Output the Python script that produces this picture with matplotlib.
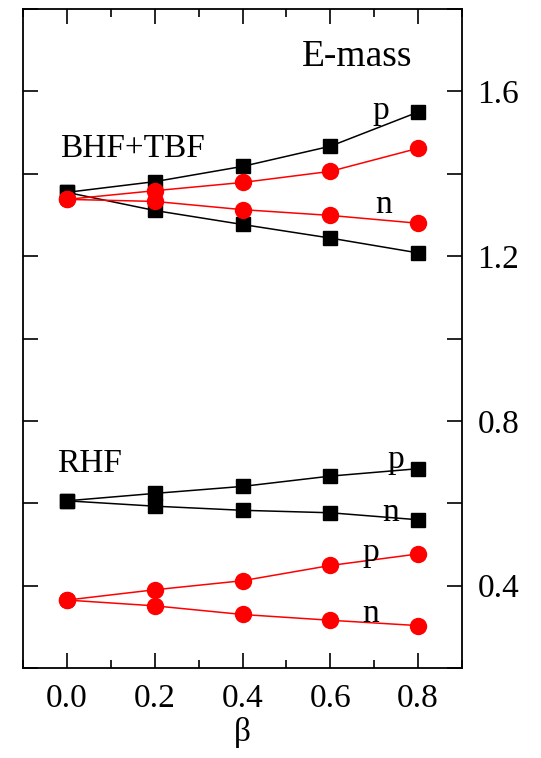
import matplotlib
matplotlib.use("Agg")
import matplotlib.pyplot as plt
from matplotlib.ticker import MultipleLocator

plt.rcParams['font.family'] = ['Liberation Serif', 'DejaVu Serif']

beta = [0.0, 0.2, 0.4, 0.6, 0.8]

# BHF+TBF
bhf_black_p = [1.355, 1.381, 1.418, 1.467, 1.550]
bhf_black_n = [1.355, 1.311, 1.277, 1.244, 1.208]
bhf_red_p = [1.338, 1.359, 1.379, 1.406, 1.462]
bhf_red_n = [1.338, 1.333, 1.313, 1.299, 1.280]

# RHF
rhf_black_p = [0.606, 0.624, 0.641, 0.666, 0.684]
rhf_black_n = [0.606, 0.593, 0.583, 0.577, 0.560]
rhf_red_p = [0.365, 0.390, 0.412, 0.449, 0.477]
rhf_red_n = [0.365, 0.351, 0.330, 0.316, 0.303]

fig = plt.figure(figsize=(5.41, 7.58), dpi=100)
ax = fig.add_axes([0.0425, 0.1187, 0.8115, 0.8693])

sq = dict(color='black', marker='s', markersize=10.5, linewidth=1.1)
ci = dict(color='red', marker='o', markersize=11.5, linewidth=1.1)

for ys in [bhf_black_p, bhf_black_n, rhf_black_p, rhf_black_n]:
    ax.plot(beta, ys, **sq)
for ys in [bhf_red_p, bhf_red_n, rhf_red_p, rhf_red_n]:
    ax.plot(beta, ys, **ci)

fs = 24
ax.text(0.66, 1.662, "E-mass", fontsize=27, ha='center', va='baseline')
ax.text(-0.0155, 1.44, "BHF+TBF", fontsize=fs, ha='left', va='baseline')
ax.text(-0.022, 0.677, "RHF", fontsize=fs, ha='left', va='baseline')

# p / n labels
ax.text(0.715, 1.533, "p", fontsize=fs, ha='center', va='baseline')
ax.text(0.722, 1.306, "n", fontsize=fs, ha='center', va='baseline')
ax.text(0.749, 0.686, "p", fontsize=fs, ha='center', va='baseline')
ax.text(0.738, 0.558, "n", fontsize=fs, ha='center', va='baseline')
ax.text(0.692, 0.459, "p", fontsize=fs, ha='center', va='baseline')
ax.text(0.692, 0.311, "n", fontsize=fs, ha='center', va='baseline')

ax.set_xlim(-0.1, 0.9)
ax.set_ylim(0.2, 1.8)
ax.xaxis.set_minor_locator(MultipleLocator(0.1))
ax.set_xticks(beta)
ax.set_xticklabels(["0.0", "0.2", "0.4", "0.6", "0.8"])
yticks = [0.2, 0.4, 0.6, 0.8, 1.0, 1.2, 1.4, 1.6, 1.8]
ylabels = ["", "0.4", "", "0.8", "", "1.2", "", "1.6", ""]
ax.set_yticks(yticks)
ax.set_yticklabels(ylabels)
ax.set_ylim(0.2, 1.8)
ax.xaxis.set_ticks_position('both')

ax.tick_params(which='major', direction='in', length=11, width=1.2, labelsize=fs)
ax.tick_params(which='minor', direction='in', length=6, width=1.2)
ax.tick_params(axis='x', which='major', pad=11)
ax.tick_params(axis='y', which='major', pad=11, left=True, right=True,
               labelleft=False, labelright=True)
for s in ax.spines.values():
    s.set_linewidth(1.3)

ax.set_xlabel("β", fontsize=fs, labelpad=2)

fig.savefig("out.png", dpi=100)
